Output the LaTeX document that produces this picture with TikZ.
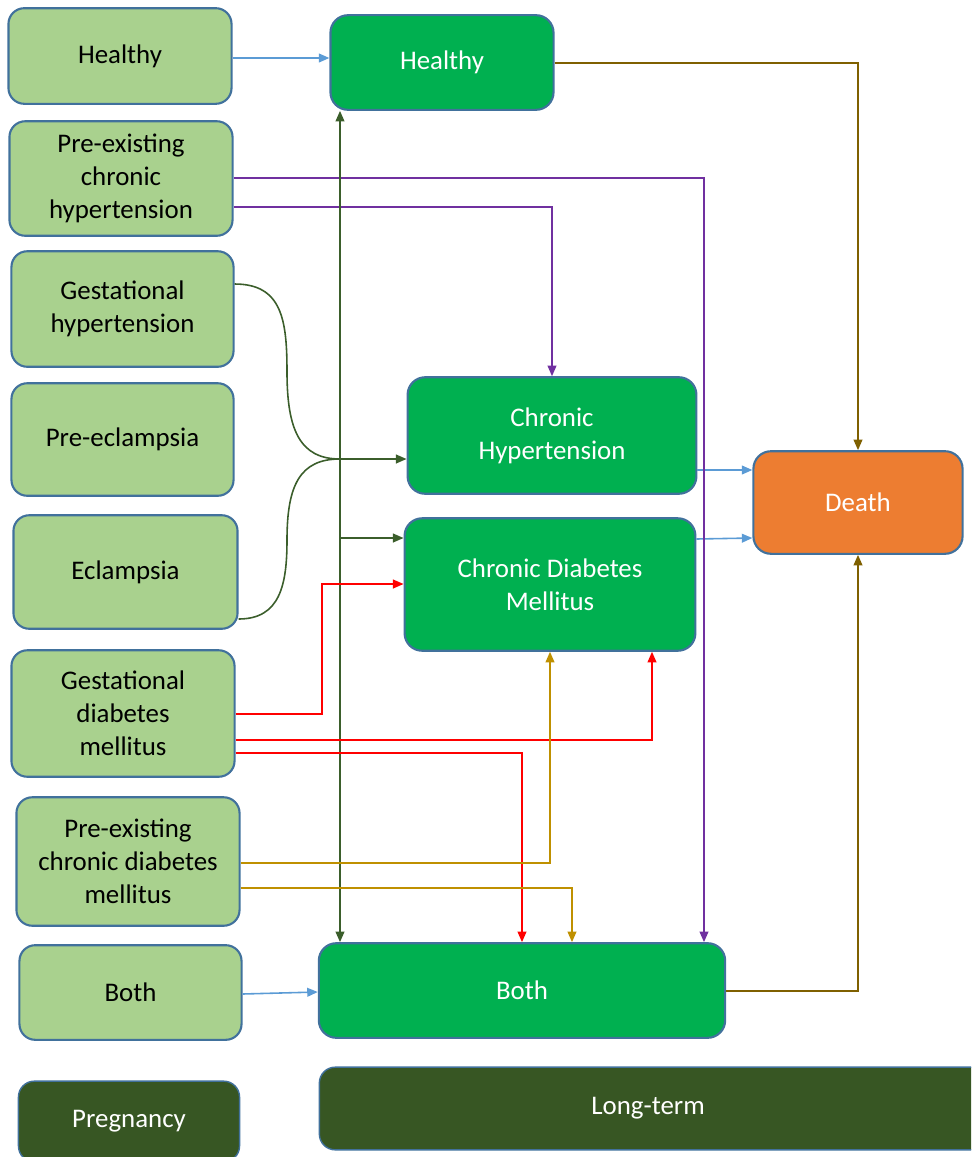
\documentclass[tikz,border=0pt]{standalone}
\usepackage{fontspec}
\setmainfont{Carlito}
\usetikzlibrary{arrows.meta}

\definecolor{lgreen}{HTML}{A9D18E}
\definecolor{mgreen}{HTML}{00B050}
\definecolor{dgreen}{HTML}{375623}
\definecolor{edge}{HTML}{41719C}
\definecolor{dorange}{HTML}{ED7D31}
\definecolor{cblue}{HTML}{5B9BD5}
\definecolor{cbrown}{HTML}{7F6000}
\definecolor{cpurple}{HTML}{7030A0}
\definecolor{cgreen}{HTML}{3B5E2B}
\definecolor{cred}{HTML}{FF0000}
\definecolor{cgold}{HTML}{BF9000}

% box from (x1,y1) to (x2,y2) in pixel units: name, x1, y1, x2, y2, style, text
\newcommand\bx[7]{%
  \pgfmathsetmacro\bxw{(#4-#2)*0.5669}%
  \pgfmathsetmacro\bxh{(#5-#3)*0.5669}%
  \node[#6, minimum width=\bxw pt, minimum height=\bxh pt] (#1) at ({(#2+#4)/2},{(#3+#5)/2}) {#7};}

\begin{document}
\begin{tikzpicture}[x=0.02cm, y=-0.02cm,
  box/.style={draw=edge, line width=1.2pt, rounded corners=9pt, inner sep=0pt,
    align=center, font=\fontsize{15.3}{18.7}\selectfont},
  pre/.style={box, fill=lgreen, text=black},
  lt/.style={box, fill=mgreen, text=white, rounded corners=10pt},
  dk/.style={box, fill=dgreen, text=white, line width=0.8pt},
  dth/.style={box, fill=dorange, text=white, rounded corners=10pt},
  link/.style={line width=0.9pt, -{Triangle[length=6pt,width=5pt]}},
  plain/.style={line width=0.9pt}]

\useasboundingbox (0,0) rectangle (971,1157);
\clip (0,0) rectangle (971,1157);

% pregnancy states
\bx{pHealthy}{8}{8}{232}{104}{pre}{Healthy}
\bx{pCHT}{9}{121}{233}{236}{pre}{Pre-existing\\chronic\\hypertension}
\bx{pGHT}{11}{251}{234}{367}{pre}{Gestational\\hypertension}
\bx{pPE}{11}{383}{234}{496}{pre}{Pre-eclampsia}
\bx{pEcl}{13}{515}{238}{629}{pre}{Eclampsia}
\bx{pGDM}{11}{650}{235}{777}{pre}{Gestational\\diabetes\\mellitus}
\bx{pCDM}{16}{797}{240}{926}{pre}{Pre-existing\\chronic diabetes\\mellitus}
\bx{pBoth}{19}{945}{242}{1040}{pre}{Both}
\bx{pPreg}{18}{1081}{240}{1162}{dk}{Pregnancy}

% long-term states
\bx{lHealthy}{330}{15}{554}{110}{lt}{Healthy}
\bx{lCHT}{407}{377}{697}{494}{lt}{Chronic\\Hypertension}
\bx{lCDM}{404}{518}{696}{651}{lt}{Chronic Diabetes\\Mellitus}
\bx{lDeath}{753}{451}{963}{554}{dth}{Death}
\bx{lBoth}{318}{943}{726}{1038}{lt}{Both}
\bx{lLong}{318}{1067}{995}{1150}{dk}{\hspace*{-9.6pt}Long-term}

% transitions to death
\draw[link,cbrown] (lHealthy.east |- 0,63) -| (lDeath.north);
\draw[link,cbrown] (lBoth.east |- 0,991) -| (lDeath.south);
\draw[link,cblue] (lCHT.east |- 0,470) -- (lDeath.west |- 0,470);
\draw[link,cblue] (lCDM.east |- 0,539) -- (lDeath.west |- 0,538);

% healthy and both
\draw[link,cblue] (pHealthy.east |- 0,58) -- (lHealthy.west |- 0,58);
\draw[link,cblue] (pBoth.east |- 0,994) -- (lBoth.west |- 0,992);

% pre-existing chronic hypertension
\draw[link,cpurple] (pCHT.east |- 0,178) -| (lBoth.north -| 704,0);
\draw[link,cpurple] (pCHT.east |- 0,207) -| (lCHT.north);

% gestational hypertension and eclampsia merge
\coordinate (j) at (340,459);
\draw[plain,cgreen] (pGHT.east |- 0,284) .. controls (282,284) and (287,320) .. (287,372)
  .. controls (287,430) and (300,459) .. (j);
\draw[plain,cgreen] (pEcl.east |- 0,619) .. controls (280,619) and (287,585) .. (287,540)
  .. controls (287,485) and (300,459) .. (j);
\draw[link,cgreen] (j) -- (lCHT.west |- j);

% healthy <-> both, with branch to chronic diabetes
\draw[plain,cgreen,{Triangle[length=6pt,width=5pt]}-{Triangle[length=6pt,width=5pt]}]
  (lHealthy.south -| 340,0) -- (lBoth.north -| 340,0);
\coordinate (k) at (340,538);
\draw[link,cgreen] (k) -- (lCDM.west |- k);

% gestational diabetes mellitus
\draw[link,cred] (pGDM.east |- 0,714) -| (322,584) -- (lCDM.west |- 0,584);
\draw[link,cred] (pGDM.east |- 0,740) -| (lCDM.south -| 652,0);
\draw[link,cred] (pGDM.east |- 0,753) -| (lBoth.north -| 522,0);

% pre-existing chronic diabetes mellitus
\draw[link,cgold] (pCDM.east |- 0,863) -| (lCDM.south -| 550,0);
\draw[link,cgold] (pCDM.east |- 0,888) -| (lBoth.north -| 572,0);

\end{tikzpicture}
\end{document}
